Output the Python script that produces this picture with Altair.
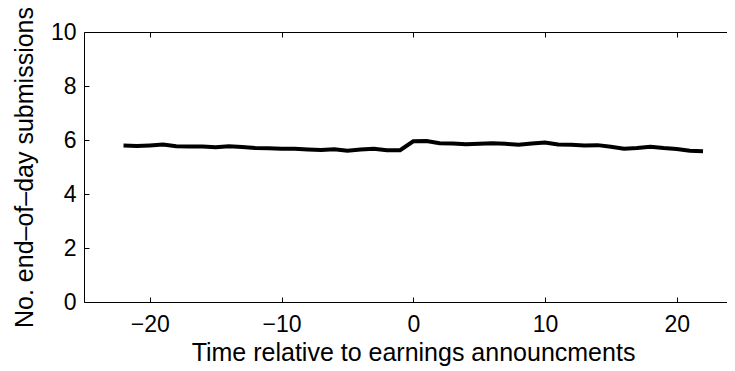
import altair as alt
import pandas as pd

days = list(range(-22, 23))
submissions = [5.80, 5.78, 5.80, 5.83, 5.77, 5.76, 5.76, 5.73, 5.77, 5.74,
               5.70, 5.69, 5.68, 5.68, 5.65, 5.63, 5.66, 5.60, 5.65, 5.68,
               5.62, 5.62, 5.95, 5.96, 5.88, 5.87, 5.84, 5.86, 5.88, 5.86,
               5.82, 5.87, 5.91, 5.83, 5.82, 5.80, 5.81, 5.75, 5.68, 5.70,
               5.75, 5.70, 5.67, 5.60, 5.58]
x_ticks = [-20, -10, 0, 10, 20]
y_ticks = [0, 2, 4, 6, 8, 10]

df = pd.DataFrame({"t": days, "n": submissions})

FONT = "Liberation Sans"
xscale = alt.Scale(domain=[-25, 23.82], nice=False, zero=False)
yscale = alt.Scale(domain=[0, 10], nice=False)

base = alt.Chart(df)

main = base.mark_line(color="black", strokeWidth=4, clip=True).encode(
    x=alt.X("t:Q", scale=xscale,
            axis=alt.Axis(orient="bottom", values=x_ticks, ticks=False, tickSize=0,
                          domain=True, domainColor="black", domainWidth=1,
                          labelFont=FONT, labelFontSize=23, labelColor="black",
                          labelPadding=11, grid=False,
                          title="Time relative to earnings announcments",
                          titleFont=FONT, titleFontSize=25, titleFontWeight="normal",
                          titleColor="black", titlePadding=4, titleX=329)),
    y=alt.Y("n:Q", scale=yscale,
            axis=alt.Axis(orient="left", values=y_ticks, ticks=False, tickSize=0,
                          domain=True, domainColor="black", domainWidth=1,
                          labelFont=FONT, labelFontSize=23, labelColor="black",
                          labelPadding=8, grid=False,
                          title="No. end\u2013of\u2013day submissions",
                          titleFont=FONT, titleFontSize=25, titleFontWeight="normal",
                          titleColor="black", titlePadding=13)),
)

ticks_bl = base.mark_line(opacity=0).encode(
    x=alt.X("t:Q", scale=xscale,
            axis=alt.Axis(orient="bottom", values=x_ticks, ticks=True, tickSize=5,
                          tickColor="black", offset=-5, domain=False, labels=False,
                          grid=False, title=None)),
    y=alt.Y("n:Q", scale=yscale,
            axis=alt.Axis(orient="left", values=y_ticks, ticks=True, tickSize=5,
                          tickColor="black", offset=-5, domain=False, labels=False,
                          grid=False, title=None)),
)

top_dom = base.mark_line(opacity=0).encode(
    x=alt.X("t:Q", scale=xscale,
            axis=alt.Axis(orient="top", values=x_ticks, ticks=False, domain=True,
                          domainColor="black", labels=False, grid=False, title=None)),
    y=alt.Y("n:Q", scale=yscale, axis=None),
)

top_ticks = base.mark_line(opacity=0).encode(
    x=alt.X("t:Q", scale=xscale,
            axis=alt.Axis(orient="top", values=x_ticks, ticks=True, tickSize=5,
                          tickColor="black", offset=-5, domain=False, labels=False,
                          grid=False, title=None)),
    y=alt.Y("n:Q", scale=yscale, axis=None),
)

chart = alt.layer(main, ticks_bl, top_dom, top_ticks).resolve_axis(
    x="independent", y="independent"
).properties(
    width=643, height=270,
    autosize=alt.AutoSizeParams(type="none"),
    padding={"left": 76, "top": 24, "right": 0, "bottom": 67},
    background="white",
).configure_view(stroke=None)

chart.save("out.html", embed_options={"renderer": "svg", "actions": False})
